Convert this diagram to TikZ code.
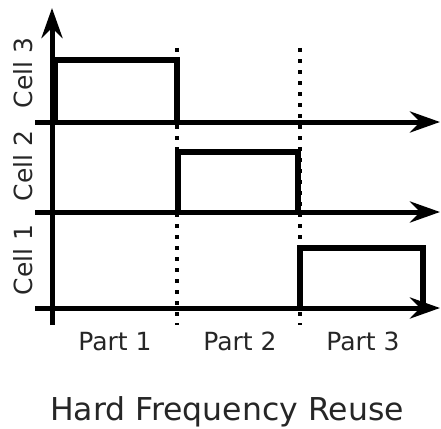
\documentclass[tikz,border=0pt]{standalone}
\usepackage{fontspec}
\setmainfont{DejaVu Sans}
\usetikzlibrary{arrows.meta}
\begin{document}
\begin{tikzpicture}[x=1pt,y=-1pt,
  axisline/.style={line width=5pt,-{Stealth[length=30pt,width=21pt,inset=10pt]}},
  boxline/.style={line width=5.5pt,line join=miter},
  divline/.style={line width=3.8pt,dash pattern=on 3.8pt off 7.2pt},
  lbl/.style={text=black!85,font=\fontsize{25}{30}\selectfont,inner sep=0pt}]
\useasboundingbox (0,0) rectangle (441,428);
% coordinates
\coordinate (vb) at (52,325);
\coordinate (vt) at (52,8);
\coordinate (a3s) at (35,122); \coordinate (a3e) at (440,122);
\coordinate (a2s) at (35,212); \coordinate (a2e) at (440,212);
\coordinate (a1s) at (35,308); \coordinate (a1e) at (440,308);
\coordinate (d1t) at (177,48); \coordinate (d1b) at (177,325);
\coordinate (d2t) at (300,48); \coordinate (d2b) at (300,325);
% dotted dividers
\draw[divline] (d1t) -- (d1b);
\draw[divline] (d2t) -- (d2b);
% axes
\draw[axisline] (vb) -- (vt);
\draw[axisline] (a3s) -- (a3e);
\draw[axisline] (a2s) -- (a2e);
\draw[axisline] (a1s) -- (a1e);
% boxes
\draw[boxline] (55,122) -- (55,60) -- (177,60) -- (177,122);
\draw[boxline] (178,212) -- (178,152) -- (298,152) -- (298,212);
\draw[boxline] (300,308) -- (300,248) -- (423,248) -- (423,308);
% labels
\node[lbl,rotate=90] (c3) at (23,73) {Cell 3};
\node[lbl,rotate=90] (c2) at (23,166) {Cell 2};
\node[lbl,rotate=90] (c1) at (23,260) {Cell 1};
\node[lbl,anchor=base] (p1) at (115,350) {Part 1};
\node[lbl,anchor=base] (p2) at (240,350) {Part 2};
\node[lbl,anchor=base] (p3) at (363,350) {Part 3};
\node[lbl,anchor=base,font=\fontsize{31.5}{36}\selectfont] (title) at (227,420) {Hard Frequency Reuse};
\end{tikzpicture}
\end{document}
